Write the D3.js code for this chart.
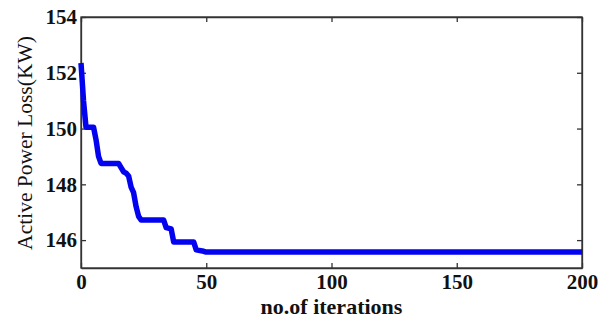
<!DOCTYPE html>
<html>
<head>
<meta charset="utf-8">
<script src="https://cdn.jsdelivr.net/npm/d3@7"></script>
<style>
  body { margin: 0; background: #fff; }
  text { font-family: "Liberation Serif", "Times New Roman", serif; }
</style>
</head>
<body>
<div id="chart"></div>
<script>
// iteration number and the loss (KW)
let iterations = [0, 1, 2, 5, 6, 7, 8, 15, 16, 17, 18, 19, 20, 21, 22, 23, 24,
                  33, 34, 36, 37, 45, 46, 49, 50, 200];
let lossKW = [152.35, 151.0, 150.05, 150.05, 149.6, 149.0, 148.75, 148.75, 148.6,
              148.45, 148.4, 148.3, 147.9, 147.7, 147.2, 146.85, 146.72,
              146.72, 146.45, 146.4, 145.93, 145.93, 145.65, 145.6, 145.57, 145.57];

let xTicks = [0, 50, 100, 150, 200];
let yTicks = [146, 148, 150, 152, 154];

let width = 609, height = 320;
let margin = {top: 17, right: 27, bottom: 52, left: 81};

let svg = d3.select("#chart").append("svg")
  .attr("width", width)
  .attr("height", height);

let w = width - margin.left - margin.right,
    h = height - margin.top - margin.bottom;

let g = svg.append("g")
  .attr("transform", "translate(" + margin.left + "," + margin.top + ")");

let xScale = d3.scaleLinear().domain([0, 200]).range([0, w]);
let yScale = d3.scaleLinear().domain([145, 154]).range([h, 0]);

// frame (matlab style box)
g.append("rect")
  .attr("width", w).attr("height", h)
  .attr("fill", "none").attr("stroke", "#333").attr("stroke-width", 1.3);

// axes with ticks pointing inwards
g.append("g").attr("transform", "translate(0," + h + ")")
  .call(d3.axisBottom(xScale).tickValues(xTicks).tickSizeInner(-5).tickSizeOuter(0).tickPadding(6));
g.append("g")
  .call(d3.axisLeft(yScale).tickValues(yTicks).tickSizeInner(-5).tickSizeOuter(0).tickPadding(4));
// right and top ticks
g.append("g").attr("transform", "translate(" + w + ",0)")
  .call(d3.axisRight(yScale).tickValues(yTicks).tickSizeInner(-5).tickSizeOuter(0).tickFormat(""));
g.append("g")
  .call(d3.axisTop(xScale).tickValues(xTicks).tickSizeInner(-5).tickSizeOuter(0).tickFormat(""));

g.selectAll(".domain").attr("stroke", "#333").attr("stroke-width", 1.3);
g.selectAll(".tick line").attr("stroke", "#333").attr("stroke-width", 1.3);
g.selectAll(".tick text")
  .style("font-family", "'Liberation Serif', serif")
  .style("font-size", "21px")
  .style("font-weight", "bold")
  .attr("fill", "#111");

// loss curve
let pts = iterations.map((d, i) => [xScale(d), yScale(lossKW[i])]);
g.append("path")
  .attr("d", d3.line()(pts))
  .attr("fill", "none")
  .attr("stroke", "#0303f0")
  .attr("stroke-width", 5.5)
  .attr("stroke-linejoin", "round");

// axis labels
svg.append("text")
  .attr("x", margin.left + w / 2)
  .attr("y", 314)
  .attr("text-anchor", "middle")
  .style("font-size", "22px")
  .style("font-weight", "bold")
  .attr("fill", "#111")
  .text("no.of iterations");

svg.append("text")
  .attr("transform", "translate(32," + 143 + ") rotate(-90)")
  .attr("text-anchor", "middle")
  .style("font-size", "21.5px")
  .attr("fill", "#111")
  .text("Active Power Loss(KW)");
</script>
</body>
</html>
